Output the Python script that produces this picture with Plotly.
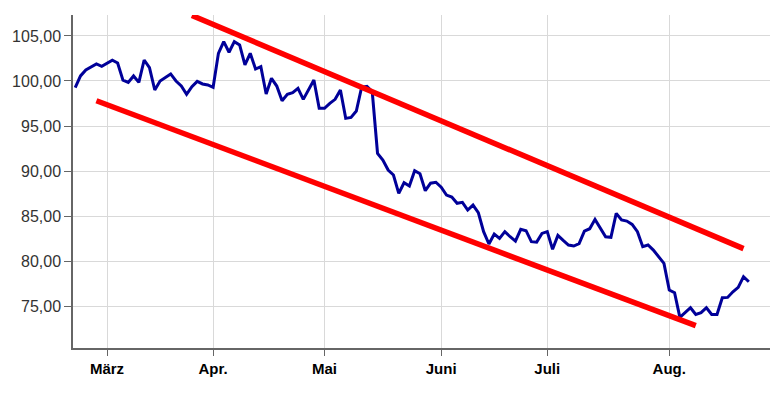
import pandas as pd
import plotly.graph_objs as go

# Xetra trading days, Feb 22 - Aug 22 2024
holidays = ["2024-03-29", "2024-04-01", "2024-05-01"]
dates = pd.bdate_range("2024-02-22", "2024-08-22", freq="C", holidays=holidays)

price = [99.26, 100.56, 101.22, 101.6, 101.89, 101.63, 101.95, 102.3, 102.0, 100.1,
         99.85, 100.56, 99.85, 102.33, 101.48, 99.0, 100.0, 100.4, 100.78, 100.0,
         99.44, 98.52, 99.37, 99.96, 99.67, 99.56, 99.3, 103.07, 104.37, 103.19,
         104.37, 104.0, 101.78, 103.07, 101.33, 101.59, 98.56, 100.3, 99.44, 97.81,
         98.52, 98.7, 99.19, 97.96, 99.0, 100.11, 96.96, 96.96, 97.52, 97.96,
         99.0, 95.85, 95.96, 96.67, 99.3, 99.4, 98.8, 91.96, 91.22, 90.11,
         89.56, 87.52, 88.7, 88.33, 90.04, 89.7, 87.81, 88.65, 88.75, 88.2,
         87.33, 87.1, 86.41, 86.52, 85.67, 86.22, 85.37, 83.26, 81.89, 83.0,
         82.52, 83.26, 82.7, 82.22, 83.52, 83.37, 82.15, 82.1, 83.07, 83.26,
         81.3, 82.85, 82.3, 81.78, 81.67, 81.93, 83.33, 83.59, 84.63, 83.74,
         82.7, 82.63, 85.3, 84.56, 84.44, 84.07, 83.26, 81.59, 81.78, 81.22,
         80.44, 79.74, 76.78, 76.48, 73.74, 74.26, 74.81, 74.07, 74.26, 74.81,
         74.07, 74.07, 75.92, 75.96, 76.59, 77.07, 78.26, 77.7]

upper_dates = ["2024-03-25", "2024-08-21"]
upper_vals = [107.28, 81.38]
lower_dates = ["2024-02-28", "2024-08-08"]
lower_vals = [97.80, 72.82]

tick_dates = ["2024-03-01", "2024-04-02", "2024-05-02", "2024-06-03", "2024-07-01", "2024-08-01"]
tick_text = ["März", "Apr.", "Mai", "Juni", "Juli", "Aug."]
y_ticks = [75, 80, 85, 90, 95, 100, 105]

fig = go.Figure()
fig.add_trace(go.Scatter(x=dates, y=price, mode="lines",
                         line={"color": "#000099", "width": 3}))
fig.add_trace(go.Scatter(x=upper_dates, y=upper_vals, mode="lines",
                         line={"color": "#ff0000", "width": 5.5}))
fig.add_trace(go.Scatter(x=lower_dates, y=lower_vals, mode="lines",
                         line={"color": "#ff0000", "width": 5.5}))

# page body has an 8px margin, so the figure is a bit smaller than the window
fig.update_layout(width=770, height=392, showlegend=False,
                  margin={"l": 65, "r": 0, "t": 7, "b": 52},
                  paper_bgcolor="white", plot_bgcolor="white",
                  separators=",.",
                  font={"family": "Liberation Sans, Arial, sans-serif"})

fig.update_xaxes(type="date",
                 rangebreaks=[{"bounds": ["sat", "mon"]}, {"values": holidays}],
                 range=["2024-02-21 14:00", "2024-08-29 12:00"],
                 tickmode="array", tickvals=tick_dates, ticktext=tick_text,
                 tickfont={"size": 15, "color": "black", "weight": "bold"},
                 showgrid=True, gridcolor="#d9d9d9", gridwidth=1,
                 showline=True, linecolor="#666666", linewidth=1.5,
                 ticks="outside", ticklen=6, tickcolor="#666666",
                 zeroline=False, automargin=False)

fig.update_yaxes(range=[70.34, 107.33],
                 tickmode="array", tickvals=y_ticks, tickformat=".2f",
                 tickfont={"size": 16, "color": "#333333"},
                 showgrid=True, gridcolor="#d9d9d9", gridwidth=1,
                 showline=True, linecolor="#666666", linewidth=1.5,
                 ticks="outside", ticklen=7, tickcolor="#666666",
                 zeroline=False, automargin=False)

fig.write_html("out.html", config={"displayModeBar": False})
